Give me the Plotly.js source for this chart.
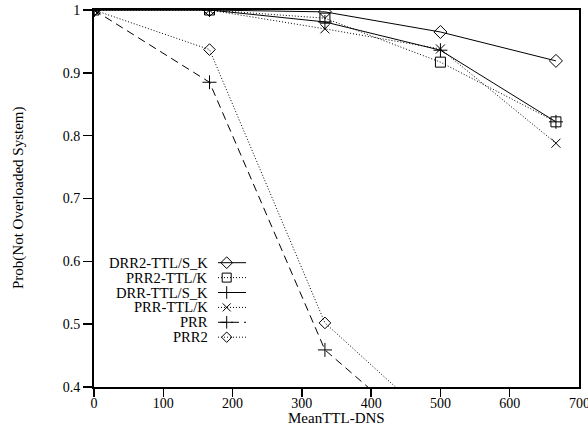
<!DOCTYPE html>
<html><head><meta charset="utf-8">
<script src="https://cdn.plot.ly/plotly-3.0.1.min.js"></script>
<style>body{margin:0;background:#fff}#c{width:588px;height:427px}</style>
</head><body><div id="c"></div>
<script>
const meanTTL = [0, 166.7, 333.3, 500, 666.7];
const seriesNames = ["DRR2-TTL/S_K", "PRR2-TTL/K", "DRR-TTL/S_K", "PRR-TTL/K", "PRR", "PRR2"];
const drr2TtlSK = [1, 1, 0.997, 0.965, 0.919];
const prr2TtlK  = [1, 1, 0.987, 0.917, 0.822];
const drrTtlSK  = [1, 1, 0.981, 0.936, 0.822];
const prrTtlK   = [1, 1, 0.970, 0.938, 0.788];
const prr       = [1, 0.885, 0.459, 0.30, 0.20];
const prr2      = [1, 0.937, 0.502, 0.335, 0.22];
const xTickLabels = ["0","100","200","300","400","500","600","700"];

const DOT = '1px,2px', DASH = '8px,5px';
const styles = [
  {dash:'solid', symbol:'diamond-open', size:10},
  {dash:DOT,     symbol:'square-open',  size:10},
  {dash:'solid', symbol:'cross-thin-open', size:10},
  {dash:DOT,     symbol:'x-thin-open',  size:9},
  {dash:DASH,    symbol:'cross-thin-open', size:10},
  {dash:DOT,     symbol:'diamond-open', size:9}
];
const values = [drr2TtlSK, prr2TtlK, drrTtlSK, prrTtlK, prr, prr2];
const serif = 'Liberation Serif, Times New Roman, serif';

const traces = values.map((v,i)=>({
  x: meanTTL, y: v, type:'scatter', mode:'lines+markers', name: seriesNames[i],
  line:{color:'#000', width:1, dash:styles[i].dash},
  marker:{symbol:styles[i].symbol, size:styles[i].size, color:'#000', line:{color:'#000', width:1}},
  showlegend:false, xaxis:'x', yaxis:'y'
}));

const L = 94, W = 485, B = 387, H = 377;
const row0 = 262.7, rowStep = 14.9;
const annotations = [], shapes = [];
seriesNames.forEach((n,i)=>{
  const py = row0 + i*rowStep;
  const yf = (B - py)/H;
  annotations.push({xref:'paper', yref:'paper', x:(209-L)/W, y:yf, xanchor:'right', yanchor:'middle',
    text:n, showarrow:false, borderpad:0, font:{family:serif, size:14.6, color:'#000'}});
  shapes.push({type:'line', xref:'paper', yref:'paper', x0:(218-L)/W, x1:(246-L)/W, y0:yf, y1:yf,
    line:{color:'#000', width:1, dash:styles[i].dash}});
  traces.push({x:[(226.7-L)/W], y:[yf], type:'scatter', mode:'markers', xaxis:'x2', yaxis:'y2',
    showlegend:false, hoverinfo:'skip',
    marker:{symbol:styles[i].symbol, size:styles[i].size-1, color:'#000', line:{color:'#000', width:1}}});
});
// last x tick label (clipped by page edge, as in the reference)
annotations.push({xref:'x', yref:'paper', x:700, y:(B-403)/H, xanchor:'center', yanchor:'middle',
  text:xTickLabels[7], showarrow:false, font:{family:serif, size:14, color:'#000'}});
// axis titles
annotations.push({xref:'paper', yref:'paper', x:(336.5-L)/W, y:(B-418)/H, xanchor:'center', yanchor:'middle',
  text:'MeanTTL-DNS', showarrow:false, font:{family:serif, size:15, color:'#000'}});
annotations.push({xref:'paper', yref:'paper', x:(18-L)/W, y:(B-198)/H, xanchor:'center', yanchor:'middle',
  text:'Prob(Not Overloaded System)', textangle:-90, showarrow:false, font:{family:serif, size:15, color:'#000'}});

const font = {family:serif, size:14, color:'#000'};
const layout = {
  width:588, height:427, margin:{l:94, r:9, t:10, b:40},
  paper_bgcolor:'#fff', plot_bgcolor:'#fff', font:font,
  xaxis:{range:[0,700], tickvals:[0,100,200,300,400,500,600], ticktext:xTickLabels.slice(0,7),
    showgrid:false, zeroline:false, showline:true, mirror:true, ticklabelstandoff:-6,
    linecolor:'#000', linewidth:2, ticks:'outside', ticklen:8, tickwidth:1.5, tickcolor:'#000', tickfont:font},
  yaxis:{range:[0.4,1], dtick:0.1, tick0:0.4, showgrid:false, zeroline:false, showline:true, mirror:true,
    linecolor:'#000', linewidth:2, ticks:'outside', ticklen:9, tickwidth:1.5, tickcolor:'#000', tickfont:font},
  xaxis2:{overlaying:'x', range:[0,1], visible:false, fixedrange:true},
  yaxis2:{overlaying:'y', range:[0,1], visible:false, fixedrange:true},
  annotations:annotations, shapes:shapes, showlegend:false
};
Plotly.newPlot('c', traces, layout, {displayModeBar:false, staticPlot:true});
</script></body></html>
